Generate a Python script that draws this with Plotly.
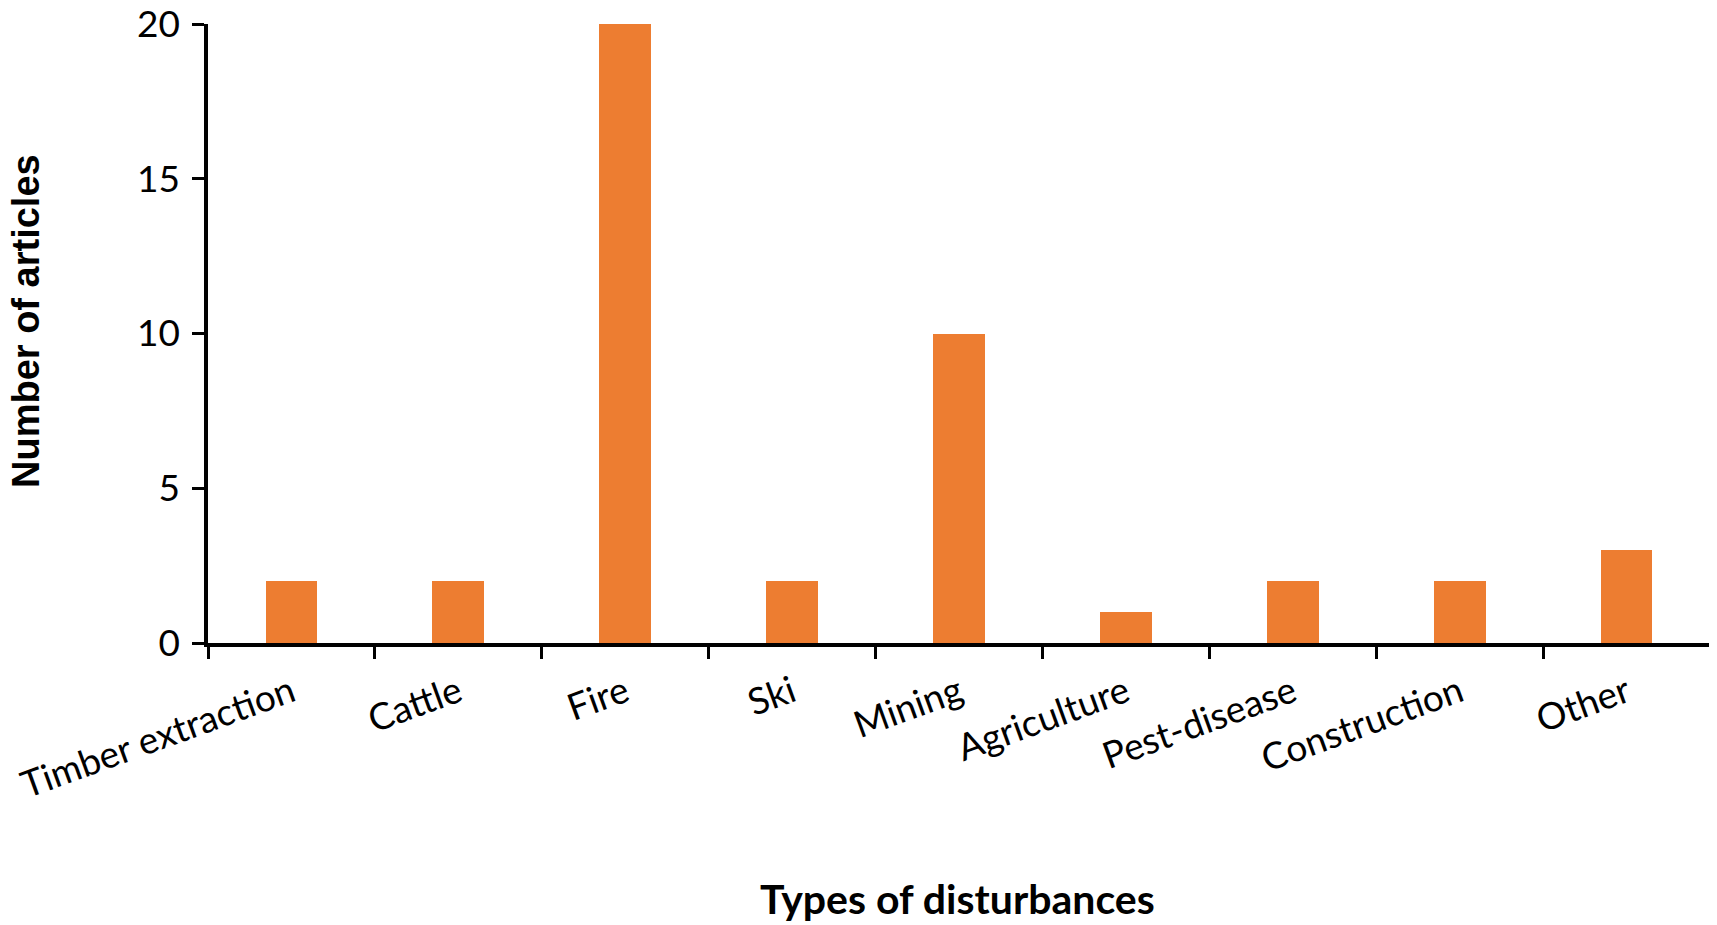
import plotly.graph_objects as go

categories = ["Timber extraction", "Cattle", "Fire", "Ski", "Mining",
              "Agriculture", "Pest-disease", "Construction", "Other"]
articles = [2, 2, 20, 2, 10, 1, 2, 2, 3]
y_ticks = [0, 5, 10, 15, 20]
x_title = "Types of disturbances"
y_title = "Number of articles"

# page body has an 8px margin; size the figure so the screenshot lines up
W, H = 1709, 917
L, R, T, B = 200, 7, 16, 282
pw, ph = W - L - R, H - T - B

fig = go.Figure(go.Bar(x=categories, y=articles, width=0.31,
                       marker=dict(color="#ED7D31", line=dict(width=0))))

tick_font = dict(family="Lato, Carlito, sans-serif", size=37, color="black")

fig.update_layout(
    width=W, height=H,
    margin=dict(l=L, r=R, t=T, b=B, autoexpand=False),
    paper_bgcolor="white", plot_bgcolor="white",
    showlegend=False,
    bargap=0,
    xaxis=dict(type="category", range=[-0.5, 8.5], tickson="boundaries",
               ticks="outside", ticklen=12, tickwidth=3, tickcolor="black",
               showline=True, linewidth=3.5, linecolor="black",
               showgrid=False, zeroline=False, tickangle=-20,
               tickfont=tick_font, ticklabelstandoff=10, automargin=False),
    yaxis=dict(range=[0, 20], tickvals=y_ticks, ticks="outside", ticklen=12,
               tickwidth=3, tickcolor="black", showline=True, linewidth=3.5,
               linecolor="black", showgrid=False, zeroline=False,
               tickfont=tick_font, ticklabelstandoff=5,
               ticklabeloverflow="allow", automargin=False),
    annotations=[
        dict(text="<b>" + x_title + "</b>", xref="paper", yref="paper",
             x=(949 - L) / pw, y=-(890 - (T + ph)) / ph, showarrow=False,
             xanchor="center", yanchor="middle",
             font=dict(family="Lato, Carlito, sans-serif", size=41, color="black")),
        dict(text="<b>" + y_title + "</b>", xref="paper", yref="paper",
             x=-(L - 18) / pw, y=(T + ph - 313) / ph, showarrow=False,
             textangle=-90, xanchor="center", yanchor="middle",
             font=dict(family="Liberation Sans, Arial, sans-serif", size=38, color="black")),
    ],
)

fig.write_html("out.html")
